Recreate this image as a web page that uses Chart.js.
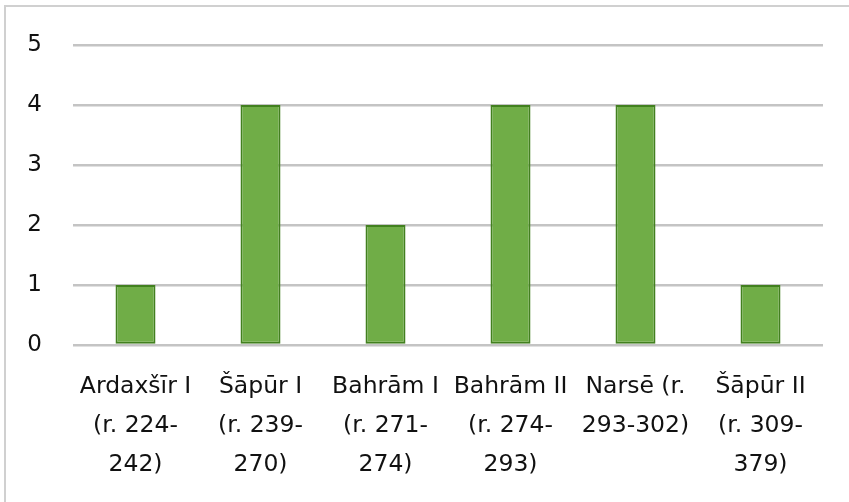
<!DOCTYPE html>
<html>
<head>
<meta charset="utf-8">
<script src="https://cdn.jsdelivr.net/npm/chart.js@4/dist/chart.umd.min.js"></script>
<style>
    html, body { margin: 0; padding: 0; background: #fff; overflow: hidden; }
    .frame {
        position: absolute; left: 4px; top: 5px;
        width: 900px; height: 600px;
        border: 2px solid #d0d0d0;
        box-sizing: border-box;
    }
    .chart-wrap { position: absolute; left: 0; top: 0; width: 849px; height: 502px; }
</style>
</head>
<body>
<div class="frame"></div>
<div class="chart-wrap">
    <canvas id="myChart" width="849" height="502"></canvas>
</div>
<script>
// kings and counts
const kings = [
    ["Ardaxšīr I", "(r. 224-", "242)"],
    ["Šāpūr I", "(r. 239-", "270)"],
    ["Bahrām I", "(r. 271-", "274)"],
    ["Bahrām II", "(r. 274-", "293)"],
    ["Narsē (r.", "293-302)"],
    ["Šāpūr II", "(r. 309-", "379)"]
];
const counts = [1, 4, 2, 4, 4, 1];
const yTicks = [0, 1, 2, 3, 4, 5];

const fontFamily = "'DejaVu Sans', sans-serif";

const ctx = document.getElementById('myChart');
new Chart(ctx, {
    type: 'bar',
    data: {
        labels: kings,
        datasets: [{
            data: counts,
            backgroundColor: '#70AD47',
            borderColor: '#42801f',
            borderWidth: 2,
            borderSkipped: false,
            barPercentage: 0.32,
            categoryPercentage: 1
        }]
    },
    options: {
        responsive: false,
        animation: false,
        layout: { padding: { top: 45, right: 26, left: 0, bottom: 0 } },
        plugins: { legend: { display: false }, tooltip: { enabled: false } },
        scales: {
            x: {
                grid: { display: false },
                border: { display: false },
                ticks: {
                    color: '#111',
                    font: { family: fontFamily, size: 23.5, lineHeight: 1.66 },
                    padding: 14,
                    maxRotation: 0,
                    autoSkip: false
                },
                afterFit: function (scale) { scale.height = 157; }
            },
            y: {
                min: 0,
                max: 5,
                afterBuildTicks: function (scale) {
                    scale.ticks = yTicks.map(v => ({ value: v }));
                },
                grid: { color: '#c4c4c4', lineWidth: 2.5, drawTicks: false },
                border: { display: false },
                ticks: {
                    color: '#111',
                    font: { family: fontFamily, size: 23 },
                    padding: 31
                },
                afterFit: function (scale) { scale.width = 73; }
            }
        }
    }
});
</script>
</body>
</html>
